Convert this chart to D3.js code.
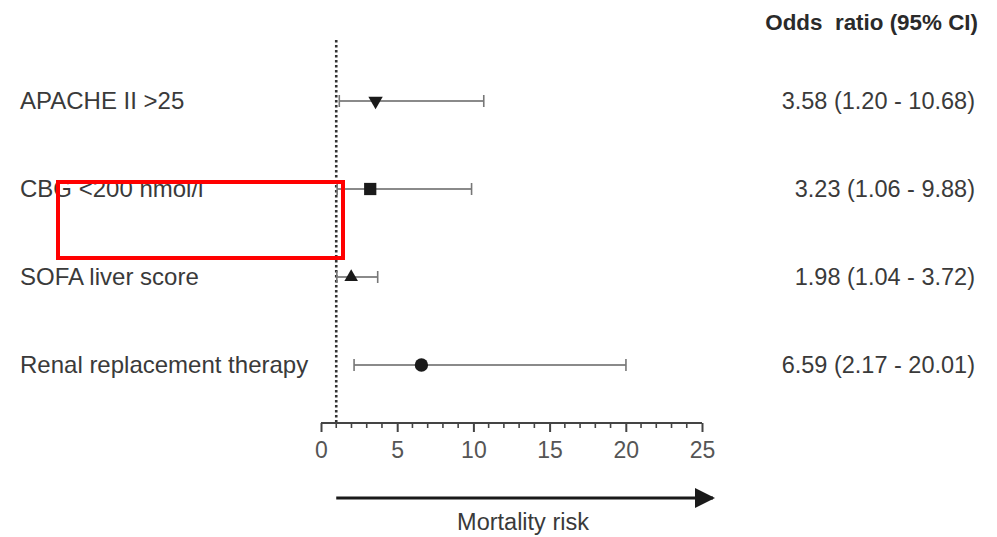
<!DOCTYPE html>
<html><head><meta charset="utf-8">
<script src="https://cdn.jsdelivr.net/npm/d3@7"></script>
<style>body{margin:0;background:#fff}svg{display:block}text{font-family:"Liberation Sans",Arial,sans-serif}</style>
</head><body>
<svg id="c" width="997" height="537"></svg>
<script>
const categories = ["APACHE II >25","CBG <200 nmol/l","SOFA liver score","Renal replacement therapy"];
const oddsRatio = [3.58, 3.23, 1.98, 6.59];
const ciLow = [1.20, 1.06, 1.04, 2.17];
const ciHigh = [10.68, 9.88, 3.72, 20.01];
const ciLabels = ["3.58 (1.20 - 10.68)","3.23 (1.06 - 9.88)","1.98 (1.04 - 3.72)","6.59 (2.17 - 20.01)"];
const markers = ["triangleDown","square","triangle","circle"];
const xTicks = [0,5,10,15,20,25];

const svg = d3.select("#c");
const x = d3.scaleLinear().domain([0,25]).range([321,702]);
const y = d3.scalePoint().domain(categories).range([101,365]);
const axisY = 423;
const txt = "#3a3a3a";

// reference line at OR = 1
svg.append("line").attr("x1",x(1)).attr("x2",x(1)).attr("y1",40).attr("y2",axisY)
  .attr("stroke","#333").attr("stroke-width",2.6).attr("stroke-dasharray","2.4,2.6");

// axis
const axis = d3.axisBottom(x).tickValues(xTicks).tickSize(8).tickSizeOuter(0).tickFormat(d3.format("d"));
const g = svg.append("g").attr("transform",`translate(0,${axisY})`).call(axis);
g.select(".domain").attr("stroke","#444").attr("stroke-width",2).attr("d",`M${x(0)},0H${x(25)}`);
g.selectAll(".tick line").attr("stroke","#444").attr("stroke-width",2).attr("y2",9);
g.selectAll(".tick text").attr("fill","#555").attr("font-size",23).attr("dy","1.05em")
  .attr("font-family","Liberation Sans, Arial, sans-serif");
g.selectAll("line.minor").data(d3.range(0,26).filter(v=>v%5!==0)).enter().append("line")
  .attr("class","minor").attr("x1",d=>x(d)).attr("x2",d=>x(d)).attr("y1",0).attr("y2",5)
  .attr("stroke","#444").attr("stroke-width",1.6);

// error bars
const rows = svg.selectAll("g.row").data(categories).enter().append("g").attr("class","row");
rows.append("line").attr("x1",(d,i)=>x(ciLow[i])).attr("x2",(d,i)=>x(ciHigh[i]))
  .attr("y1",d=>y(d)).attr("y2",d=>y(d)).attr("stroke","#8a8a8a").attr("stroke-width",2);
rows.append("line").attr("x1",(d,i)=>x(ciLow[i])).attr("x2",(d,i)=>x(ciLow[i]))
  .attr("y1",d=>y(d)-6).attr("y2",d=>y(d)+6).attr("stroke","#777").attr("stroke-width",1.6);
rows.append("line").attr("x1",(d,i)=>x(ciHigh[i])).attr("x2",(d,i)=>x(ciHigh[i]))
  .attr("y1",d=>y(d)-6).attr("y2",d=>y(d)+6).attr("stroke","#777").attr("stroke-width",1.6);

const sym = {triangleDown:d3.symbolTriangle, square:d3.symbolSquare, triangle:d3.symbolTriangle, circle:d3.symbolCircle};
const size = {triangleDown:90, square:150, triangle:80, circle:140};
rows.append("path").attr("d",(d,i)=>d3.symbol(sym[markers[i]], size[markers[i]])())
  .attr("transform",(d,i)=>`translate(${x(oddsRatio[i])},${y(d)})${markers[i]==="triangleDown"?" rotate(180)":""}`)
  .attr("fill","#1a1a1a");

// labels
rows.append("text").attr("x",20).attr("y",d=>y(d)).attr("dy","0.35em").attr("font-size",24)
  .attr("fill",txt).text(d=>d);
rows.append("text").attr("x",975).attr("y",d=>y(d)).attr("dy","0.35em").attr("font-size",23.5)
  .attr("text-anchor","end").attr("fill",txt).text((d,i)=>ciLabels[i]);

svg.append("text").attr("x",978).attr("y",22).attr("dy","0.35em").attr("font-size",22.4)
  .attr("font-weight","bold").attr("text-anchor","end").attr("fill","#2a2a2a")
  .attr("xml:space","preserve").text("Odds  ratio (95% CI)");

// arrow
svg.append("defs").append("marker").attr("id","ah").attr("viewBox","0 0 10 10").attr("refX",9).attr("refY",5)
  .attr("markerWidth",28).attr("markerHeight",20).attr("markerUnits","userSpaceOnUse")
  .attr("orient","auto").append("path").attr("d","M0,0L10,5L0,10Z").attr("fill","#1a1a1a");
svg.append("line").attr("x1",x(1)).attr("x2",713).attr("y1",498).attr("y2",498)
  .attr("stroke","#1a1a1a").attr("stroke-width",3).attr("marker-end","url(#ah)");
svg.append("text").attr("x",523).attr("y",522).attr("dy","0.35em").attr("font-size",23.5)
  .attr("text-anchor","middle").attr("fill",txt).text("Mortality risk");

// red highlight box
svg.append("rect").attr("x",58).attr("y",182).attr("width",285).attr("height",76)
  .attr("fill","none").attr("stroke","#ff0000").attr("stroke-width",4);
</script>
</body></html>
